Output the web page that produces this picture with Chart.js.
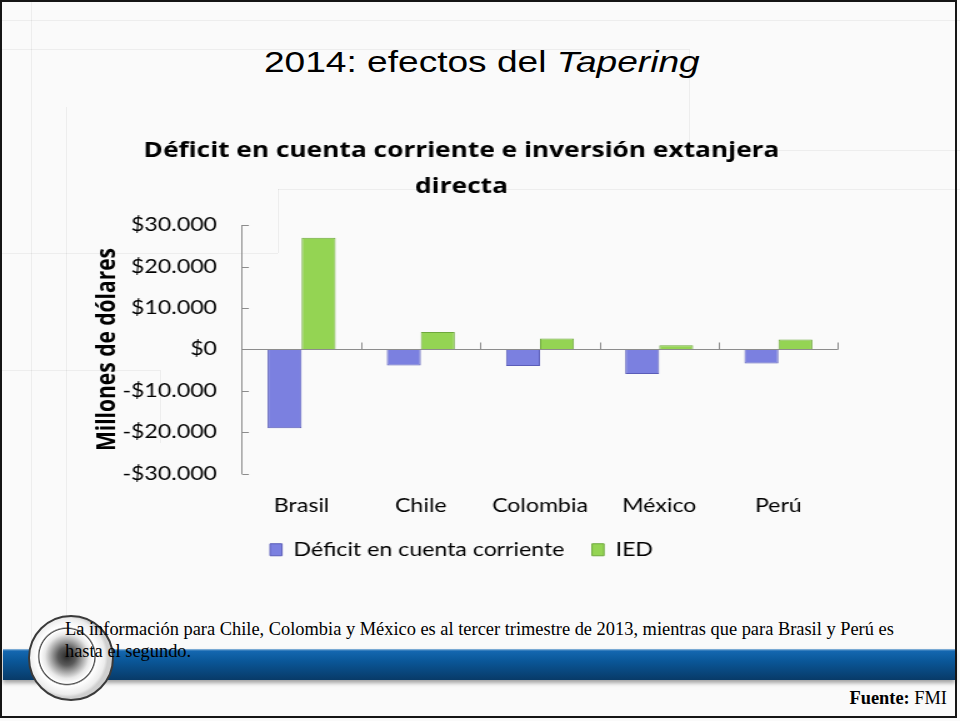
<!DOCTYPE html>
<html>
<head>
<meta charset="utf-8">
<script src="https://cdn.jsdelivr.net/npm/chart.js@4.4.1/dist/chart.umd.min.js"></script>
<style>
  html, body { margin: 0; padding: 0; background: #ffffff; }
  #slide { position: absolute; left: 0; top: 0; width: 960px; height: 721px; background: #fafafa; overflow: hidden; }
  .fl { position: absolute; background: rgba(0,0,0,0.05); }
  #frame { position: absolute; left: 0; top: 0; width: 953px; height: 714px; border: 2.5px solid #151515; }
  #title { position: absolute; left: 264px; top: 45px; font-family: "Liberation Sans", Arial, sans-serif; font-size: 30px; color: #000; white-space: nowrap; transform: scaleX(1.236); transform-origin: 0 0; }
  #chartWrap { position: absolute; left: 85px; top: 130px; width: 608px; height: 439px; transform: scaleX(1.25); transform-origin: 0 0; }
  #band { position: absolute; left: 3px; top: 649px; width: 952px; height: 31px; background: linear-gradient(#9cc0e0 0px, #1467b0 2px, #0a5798 12px, #083a68 31px); box-shadow: 0 3px 4px rgba(0,0,0,0.35); }
  #logo { position: absolute; left: 28px; top: 615px; width: 86px; height: 86px; border-radius: 50%; border: 2px solid #3a3a3a; box-sizing: border-box;
          background: radial-gradient(circle at 45% 48%, #2a2a2a 0px, #5a5a5a 9px, #a8a8a8 16px, #e8e8e8 22px, #ffffff 27px, #444 28px, #ffffff 29.5px, #ececec 38px, #cfcfcf 41px); }
  #note { position: absolute; left: 65px; top: 618px; font-family: "Liberation Serif", "Times New Roman", serif; font-size: 18.4px; line-height: 22px; color: #000; white-space: nowrap; }
  #fuente { position: absolute; right: 13px; top: 688px; font-family: "Liberation Serif", "Times New Roman", serif; font-size: 18.4px; color: #000; white-space: nowrap; }
</style>
</head>
<body>
<div id="slide">
  <div class="fl" style="left:0;top:20px;width:960px;height:1px"></div>
  <div class="fl" style="left:31px;top:0;width:1px;height:640px"></div>
  <div class="fl" style="left:0;top:49px;width:689px;height:1px"></div>
  <div class="fl" style="left:689px;top:49px;width:1px;height:101px"></div>
  <div class="fl" style="left:689px;top:150px;width:271px;height:1px"></div>
  <div class="fl" style="left:66px;top:107px;width:1px;height:540px"></div>
  <div class="fl" style="left:0;top:253px;width:278px;height:1px"></div>
  <div class="fl" style="left:278px;top:189px;width:1px;height:64px"></div>
  <div class="fl" style="left:278px;top:189px;width:682px;height:1px"></div>
  <div class="fl" style="left:0;top:370px;width:160px;height:1px"></div>
  <div class="fl" style="left:160px;top:370px;width:1px;height:73px"></div>

  <div id="title">2014: efectos del <i>Tapering</i></div>

  <div id="chartWrap"><canvas id="c" width="608" height="439"></canvas></div>

  <div id="band"></div>
  <div id="logo"></div>
  <div id="note">La información para Chile, Colombia y México es al tercer trimestre de 2013, mientras que para Brasil y Perú es<br>hasta el segundo.</div>
  <div id="fuente"><b>Fuente:</b> FMI</div>
  <div id="frame"></div>
</div>

<script>
// ---- data ----
const categories = ['Brasil', 'Chile', 'Colombia', 'México', 'Perú'];
const deficitCuentaCorriente = [-19000, -3900, -4000, -5900, -3400];
const ied = [27000, 4200, 2650, 1000, 2400];
const seriesNames = ['Déficit en cuenta corriente', 'IED'];
const chartTitle = ['Déficit en cuenta corriente e inversión extanjera', 'directa'];
const yAxisTitle = 'Millones de dólares';
const yMin = -30000, yMax = 30000, yStep = 10000;

function fmt(v) {
  const s = String(Math.abs(v)).replace(/\B(?=(\d{3})+(?!\d))/g, '.');
  return (v < 0 ? '-' : '') + '$' + s;
}

const axisColor = '#8c8c8c';

const innerTicks = {
  id: 'innerTicks',
  afterDatasetsDraw(chart) {
    const ctx = chart.ctx, xs = chart.scales.x, ys = chart.scales.y;
    ctx.save();
    ctx.strokeStyle = axisColor;
    ctx.lineWidth = 1;
    ys.ticks.forEach(t => {
      const py = Math.round(ys.getPixelForValue(t.value)) + 0.5;
      ctx.beginPath();
      ctx.moveTo(ys.right, py);
      ctx.lineTo(ys.right + 5.5, py);
      ctx.stroke();
    });
    const y0 = Math.round(ys.getPixelForValue(0)) + 0.5;
    const n = categories.length;
    for (let i = 1; i <= n; i++) {
      const px = Math.round(xs.left + i * (xs.right - xs.left) / n) + 0.5;
      ctx.beginPath();
      ctx.moveTo(px, y0);
      ctx.lineTo(px, y0 - 7);
      ctx.stroke();
    }
    ctx.restore();
  }
};

new Chart(document.getElementById('c'), {
  type: 'bar',
  data: {
    labels: categories,
    datasets: [
      { label: seriesNames[0], data: deficitCuentaCorriente, backgroundColor: '#7b80e0', borderColor: '#5a5cb8', borderWidth: 1, barPercentage: 1.0, categoryPercentage: 0.57 },
      { label: seriesNames[1], data: ied, backgroundColor: '#94d453', borderColor: '#6ea83c', borderWidth: 1, barPercentage: 1.0, categoryPercentage: 0.57 }
    ]
  },
  options: {
    responsive: false,
    animation: false,
    devicePixelRatio: 1,
    layout: { padding: { left: 0, right: 5.6, top: 0, bottom: 0 } },
    plugins: {
      title: {
        display: true,
        text: chartTitle,
        color: '#000',
        font: { family: '"Open Sans"', size: 21, weight: 'bold', lineHeight: 1.72 },
        padding: { top: 3, bottom: 20 }
      },
      legend: {
        position: 'bottom',
        labels: {
          color: '#000',
          font: { family: 'Lato', size: 18.5 },
          boxWidth: 9.6,
          boxHeight: 12,
          padding: 22
        }
      },
      tooltip: { enabled: false }
    },
    scales: {
      x: {
        grid: { display: false, drawTicks: false },
        border: { display: false },
        ticks: { color: '#000', font: { family: 'Lato', size: 18.5 }, padding: 21 },
        afterFit: (s) => { s.height = 44.8; }
      },
      y: {
        min: yMin,
        max: yMax,
        grid: {
          drawTicks: false,
          color: (c) => (c.tick && c.tick.value === 0 ? axisColor : 'rgba(0,0,0,0)'),
          lineWidth: 1
        },
        border: { display: true, color: axisColor },
        ticks: {
          stepSize: yStep,
          color: '#000',
          font: { family: 'Lato', size: 18.5 },
          padding: 20,
          callback: (v) => fmt(v)
        },
        title: {
          display: true,
          text: yAxisTitle,
          color: '#000',
          font: { family: '"Open Sans"', size: 21, weight: 'bold' },
          padding: { top: 5, bottom: 4 }
        },
        afterFit: (s) => { s.width = 125.6; }
      }
    }
  },
  plugins: [innerTicks]
});
</script>
</body>
</html>
